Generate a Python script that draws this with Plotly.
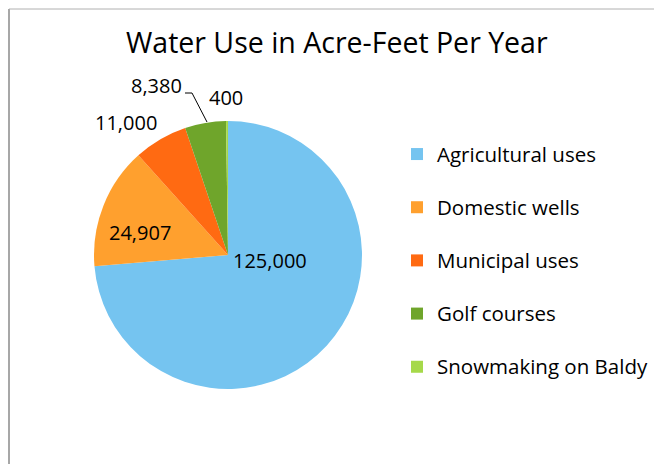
import plotly.graph_objects as go

categories = ["Agricultural uses", "Domestic wells", "Municipal uses", "Golf courses", "Snowmaking on Baldy"]
values = [125000, 24907, 11000, 8380, 400]
colors = ["#75C4F0", "#FFA02E", "#FF6A12", "#6FA52B", "#A6D94A"]

W, H = 654, 464

def px(x):
    return x / W

def py(y):
    return 1 - y / H

cx, cy, r = 228, 255, 134

legend_labels = ["<span style='font-size:20.5px'>" + c + "</span><br>&nbsp;" for c in categories]

fig = go.Figure(go.Pie(
    labels=legend_labels,
    values=values,
    sort=False,
    direction="clockwise",
    rotation=0,
    marker=dict(colors=colors, line=dict(width=0)),
    textinfo="none",
    hoverinfo="skip",
    domain=dict(x=[px(cx - r), px(cx + r)], y=[py(cy + r), py(cy - r)]),
))

# data labels (positions are layout, text from data)
label_pos = [(270, 260), (140, 232), (126, 122), (156, 85), (226, 97)]
annotations = []
for v, (x, y) in zip(values, label_pos):
    annotations.append(dict(x=px(x), y=py(y), xref="paper", yref="paper", text=f"{v:,}",
                            showarrow=False, xanchor="center", yanchor="middle",
                            font=dict(family="Open Sans", size=20, color="#000")))

annotations.append(dict(x=px(337), y=py(42), xref="paper", yref="paper",
                        text="Water Use in Acre-Feet Per Year", showarrow=False,
                        xanchor="center", yanchor="middle",
                        font=dict(family="Open Sans", size=28.5, color="#000")))

shapes = [
    dict(type="line", xref="paper", yref="paper", x0=px(9), x1=px(9), y0=py(9), y1=py(480),
         line=dict(color="#8a8a8a", width=1.5)),
    dict(type="line", xref="paper", yref="paper", x0=px(9), x1=px(670), y0=py(9), y1=py(9),
         line=dict(color="#b0b0b0", width=1)),
    dict(type="path", xref="paper", yref="paper",
         path=f"M {px(185)},{py(93)} L {px(192)},{py(93)} L {px(207)},{py(122)}",
         line=dict(color="#000", width=1)),
]

fig.update_layout(
    width=W, height=H,
    margin=dict(l=0, r=0, t=0, b=0, autoexpand=False),
    paper_bgcolor="white",
    plot_bgcolor="white",
    showlegend=True,
    legend=dict(x=px(397), y=py(135), xanchor="left", yanchor="top",
                valign="top", font=dict(family="Open Sans", size=19.3, color="#000"),
                bgcolor="rgba(0,0,0,0)"),
    annotations=annotations,
    shapes=shapes,
)

fig.write_html("out.html", config={"displayModeBar": False},
               post_script="document.body.style.margin='0';")
